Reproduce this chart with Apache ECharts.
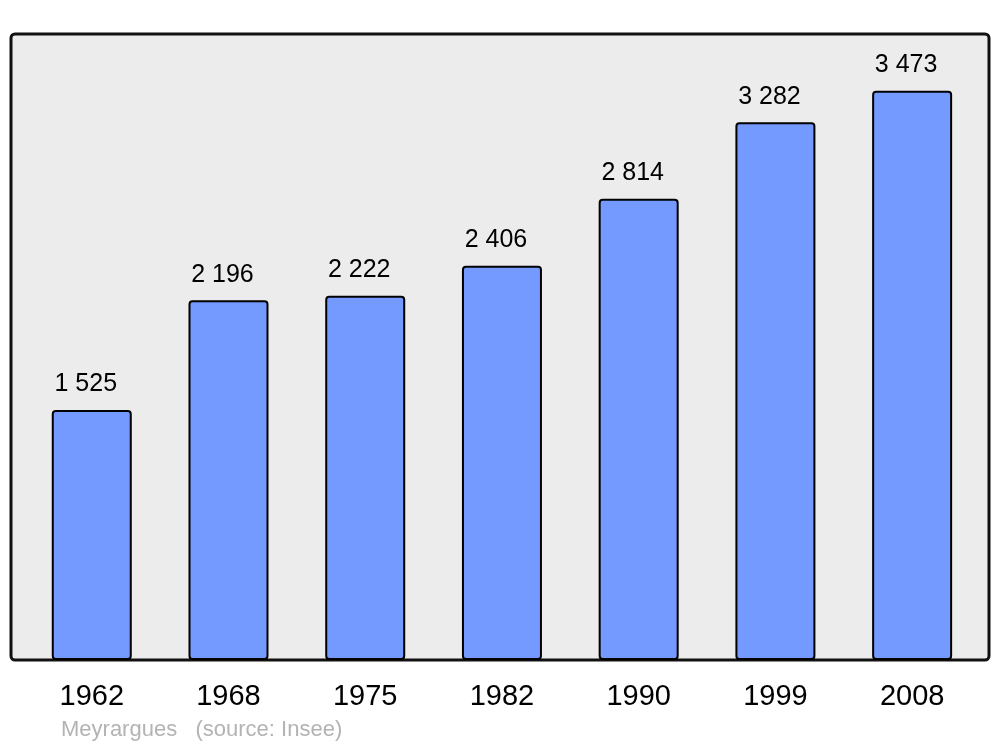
<!DOCTYPE html>
<html>
<head>
<meta charset="utf-8">
<script src="https://cdn.jsdelivr.net/npm/echarts@6/dist/echarts.min.js"></script>
<style>html,body{margin:0;padding:0;background:#fff;}#c{width:1000px;height:747px;}</style>
</head>
<body>
<div id="c"></div>
<script>
const years = ['1962', '1968', '1975', '1982', '1990', '1999', '2008'];
const population = [1525, 2196, 2222, 2406, 2814, 3282, 3473];
const footer = 'Meyrargues   (source: Insee)';

const fmt = v => String(v).replace(/\B(?=(\d{3})+(?!\d))/g, ' ');

const chart = echarts.init(document.getElementById('c'), null, {renderer: 'canvas'});
chart.setOption({
  backgroundColor: '#ffffff',
  animation: false,
  graphic: [
    {type: 'rect', z: -10, silent: true,
     shape: {x: 11, y: 34, width: 978, height: 626, r: 4},
     style: {fill: '#ececec', stroke: '#111111', lineWidth: 3}},
    {type: 'text', x: 61, y: 730,
     style: {text: footer, fill: '#b3b3b3', verticalAlign: 'middle',
       font: '22px "Liberation Sans", Arial, sans-serif'}}
  ],
  grid: {left: 23.4, top: 34, width: 957.1, height: 626},
  xAxis: {
    type: 'category', data: years,
    axisLine: {show: false}, axisTick: {show: false},
    axisLabel: {color: '#000', fontSize: 29, fontFamily: '"Liberation Sans", Arial, sans-serif', margin: 22}
  },
  yAxis: {type: 'value', min: 0, max: 3820, show: false, splitLine: {show: false}},
  series: [{
    type: 'bar', data: population, barWidth: 80,
    itemStyle: {color: '#7499ff', borderColor: '#000', borderWidth: 2, borderRadius: 3},
    label: {show: true, position: 'top', distance: 13, offset: [-6, 0], color: '#000', fontSize: 25,
      fontFamily: '"Liberation Sans", Arial, sans-serif',
      formatter: p => fmt(p.value)}
  }]
});
</script>
</body>
</html>
